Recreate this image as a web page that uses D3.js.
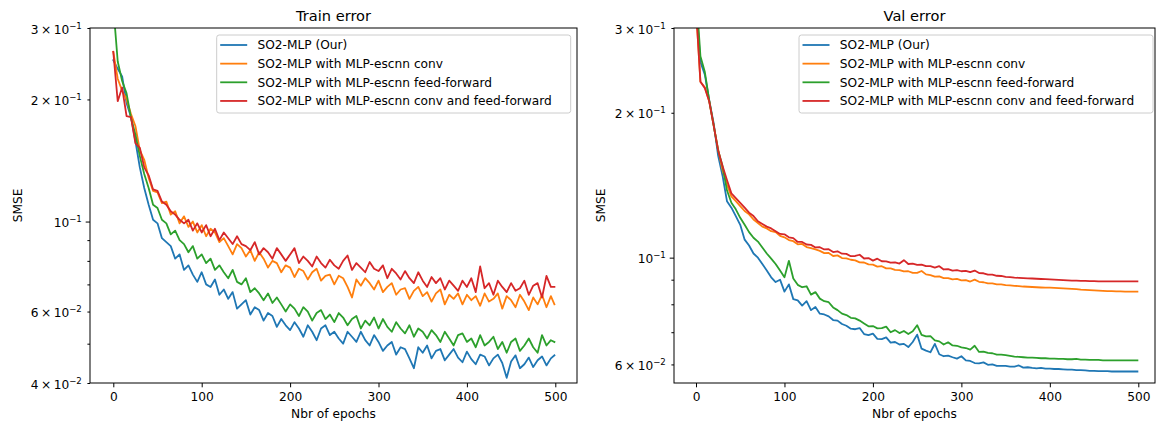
<!DOCTYPE html>
<html>
<head>
<meta charset="utf-8">
<script src="https://cdn.jsdelivr.net/npm/d3@7"></script>
<style>
  body { margin: 0; background: #fff; }
  text { font-family: "DejaVu Sans", sans-serif; fill: #000; }
</style>
</head>
<body>
<div id="vis"></div>
<script>
const svgWidth = 1156,
  svgHeight = 423,
  plotTop = 28,
  plotBottom = 383;

// epochs sampled every 5 (plus the last one)
const epochs = d3.range(0, 500, 5).concat([499]);
const xTicks = [0, 100, 200, 300, 400, 500];

const seriesNames = [
  "SO2-MLP (Our)",
  "SO2-MLP with MLP-escnn conv",
  "SO2-MLP with MLP-escnn feed-forward",
  "SO2-MLP with MLP-escnn conv and feed-forward",
];
const colors = ["#1f77b4", "#ff7f0e", "#2ca02c", "#d62728"];

// train error
const trainOur = [
  0.250, 0.238, 0.228, 0.196, 0.181, 0.158, 0.136, 0.121, 0.110, 0.101,
  0.099, 0.091, 0.089, 0.087, 0.081, 0.083, 0.076, 0.078, 0.074, 0.071,
  0.075, 0.070, 0.069, 0.072, 0.066, 0.068, 0.0645, 0.067, 0.061, 0.0625,
  0.064, 0.059, 0.0615, 0.0605, 0.057, 0.0595, 0.0585, 0.055, 0.0575, 0.0555,
  0.054, 0.0565, 0.0545, 0.052, 0.0555, 0.0535, 0.051, 0.0545, 0.0555, 0.0525,
  0.0535, 0.0515, 0.050, 0.0535, 0.052, 0.0505, 0.0535, 0.051, 0.0495, 0.0525,
  0.0505, 0.048, 0.0495, 0.0505, 0.047, 0.049, 0.0485, 0.046, 0.0435, 0.049,
  0.0475, 0.0495, 0.046, 0.048, 0.0485, 0.0455, 0.047, 0.0485, 0.0462, 0.045,
  0.0478, 0.0458, 0.0445, 0.047, 0.0465, 0.0442, 0.046, 0.047, 0.0448, 0.0412,
  0.0452, 0.0468, 0.0435, 0.0445, 0.0462, 0.0438, 0.0455, 0.0465, 0.0442, 0.046,
  0.0468,
];
const trainConv = [
  0.262, 0.225, 0.210, 0.200, 0.184, 0.172, 0.150, 0.142, 0.128, 0.119,
  0.118, 0.111, 0.112, 0.104, 0.106, 0.099, 0.103, 0.097, 0.100, 0.094,
  0.098, 0.092, 0.096, 0.094, 0.089, 0.091, 0.087, 0.083, 0.088, 0.086,
  0.082, 0.085, 0.080, 0.084, 0.081, 0.077, 0.080, 0.079, 0.075, 0.078,
  0.077, 0.073, 0.0765, 0.0755, 0.072, 0.075, 0.0765, 0.0715, 0.0735, 0.074,
  0.070, 0.0735, 0.0725, 0.069, 0.065, 0.072, 0.0695, 0.0725, 0.0705, 0.068,
  0.0715, 0.067, 0.069, 0.0705, 0.066, 0.068, 0.0685, 0.0645, 0.0675, 0.069,
  0.0655, 0.067, 0.0635, 0.0665, 0.068, 0.0625, 0.066, 0.0645, 0.0665, 0.0625,
  0.066, 0.064, 0.0655, 0.062, 0.0665, 0.0635, 0.0645, 0.0665, 0.061, 0.0655,
  0.064, 0.0615, 0.066, 0.0635, 0.0605, 0.065, 0.0625, 0.066, 0.0615, 0.0655,
  0.0625,
];
const trainFF = [
  0.340, 0.248, 0.222, 0.207, 0.180, 0.164, 0.145, 0.131, 0.121, 0.110,
  0.108, 0.101, 0.099, 0.093, 0.095, 0.090, 0.088, 0.084, 0.087, 0.081,
  0.083, 0.079, 0.081, 0.076, 0.078, 0.075, 0.0725, 0.076, 0.071, 0.070,
  0.0725, 0.067, 0.0685, 0.0665, 0.064, 0.0665, 0.063, 0.065, 0.0625, 0.060,
  0.0625, 0.061, 0.0585, 0.0615, 0.060, 0.057, 0.0595, 0.0605, 0.0575, 0.059,
  0.0565, 0.0595, 0.058, 0.0555, 0.0575, 0.0585, 0.0545, 0.057, 0.0555, 0.058,
  0.0545, 0.0575, 0.055, 0.0535, 0.0565, 0.0545, 0.053, 0.0555, 0.052, 0.0545,
  0.0535, 0.0515, 0.054, 0.0525, 0.0505, 0.0535, 0.0515, 0.0495, 0.0525, 0.053,
  0.0505, 0.0515, 0.049, 0.0525, 0.0495, 0.0505, 0.052, 0.0485, 0.0505, 0.0475,
  0.0505, 0.0515, 0.048, 0.0495, 0.0515, 0.049, 0.0475, 0.0525, 0.0495, 0.051,
  0.0505,
];
const trainConvFF = [
  0.262, 0.198, 0.214, 0.182, 0.181, 0.156, 0.152, 0.136, 0.130, 0.120,
  0.119, 0.112, 0.110, 0.106, 0.104, 0.101, 0.099, 0.101, 0.095, 0.099,
  0.094, 0.098, 0.092, 0.096, 0.090, 0.094, 0.091, 0.088, 0.092, 0.088,
  0.087, 0.085, 0.089, 0.083, 0.086, 0.084, 0.081, 0.086, 0.083, 0.080,
  0.083, 0.086, 0.079, 0.082, 0.080, 0.0775, 0.082, 0.079, 0.077, 0.0805,
  0.078, 0.0765, 0.080, 0.0825, 0.076, 0.079, 0.077, 0.075, 0.0795, 0.0765,
  0.0755, 0.078, 0.0725, 0.0765, 0.0745, 0.072, 0.0755, 0.0725, 0.0705, 0.075,
  0.0715, 0.069, 0.073, 0.0705, 0.0725, 0.068, 0.0715, 0.0695, 0.0675, 0.0715,
  0.069, 0.0725, 0.067, 0.0775, 0.0685, 0.0705, 0.066, 0.0715, 0.069, 0.067,
  0.0705, 0.0675, 0.0685, 0.0715, 0.066, 0.0695, 0.0705, 0.065, 0.0735, 0.069,
  0.069,
];

// validation error
const valOur = [
  0.340, 0.255, 0.240, 0.212, 0.190, 0.163, 0.148, 0.131, 0.127, 0.122,
  0.117, 0.109, 0.106, 0.102, 0.100, 0.097, 0.094, 0.091, 0.089, 0.090,
  0.085, 0.088, 0.082, 0.0815, 0.0795, 0.0812, 0.0778, 0.0790, 0.0765, 0.0762,
  0.0755, 0.0742, 0.0740, 0.0728, 0.0722, 0.0712, 0.0710, 0.0714, 0.0694, 0.0690,
  0.0695, 0.0678, 0.0677, 0.0683, 0.0666, 0.0668, 0.0660, 0.0662, 0.0652, 0.0668,
  0.0692, 0.0647, 0.0641, 0.0636, 0.0662, 0.0630, 0.0624, 0.0626, 0.0621, 0.0617,
  0.0624, 0.0612, 0.0610, 0.0604, 0.0603, 0.0606, 0.0599, 0.0600, 0.0596, 0.0596,
  0.0596, 0.0594, 0.0594, 0.0597, 0.0591, 0.0592, 0.0590, 0.0589, 0.0590, 0.0588,
  0.0588, 0.0587, 0.0587, 0.0586, 0.0585, 0.0585, 0.0584, 0.0584, 0.0583, 0.0582,
  0.0582, 0.0581, 0.0581, 0.0581, 0.0580, 0.0580, 0.0580, 0.0580, 0.0580, 0.0580,
  0.0580,
];
const valConv = [
  0.330, 0.232, 0.226, 0.211, 0.188, 0.168, 0.152, 0.142, 0.134, 0.131,
  0.128, 0.125, 0.123, 0.120, 0.118, 0.116, 0.115, 0.1135, 0.113, 0.111,
  0.1102, 0.1088, 0.1082, 0.1066, 0.1068, 0.1052, 0.1047, 0.1040, 0.1033, 0.1022,
  0.1023, 0.1008, 0.1011, 0.0998, 0.0997, 0.0990, 0.0987, 0.0978, 0.0977, 0.0968,
  0.0967, 0.0958, 0.0960, 0.0950, 0.0950, 0.0943, 0.0942, 0.0936, 0.0937, 0.0930,
  0.0930, 0.0938, 0.0923, 0.0920, 0.0913, 0.0914, 0.0907, 0.0907, 0.0901, 0.0903,
  0.0897, 0.0898, 0.0892, 0.0900, 0.0891, 0.0889, 0.0884, 0.0884, 0.0880, 0.0880,
  0.0877, 0.0876, 0.0874, 0.0873, 0.0871, 0.0870, 0.0869, 0.0868, 0.0867, 0.0866,
  0.0866, 0.0865, 0.0864, 0.0863, 0.0862, 0.0861, 0.0860, 0.0858, 0.0857, 0.0856,
  0.0855, 0.0854, 0.0853, 0.0852, 0.0852, 0.0851, 0.0851, 0.0850, 0.0850, 0.0850,
  0.0850,
];
const valFF = [
  0.360, 0.262, 0.243, 0.212, 0.188, 0.167, 0.155, 0.138, 0.130, 0.126,
  0.121, 0.117, 0.113, 0.110, 0.108, 0.105, 0.102, 0.0995, 0.097, 0.094,
  0.091, 0.0985, 0.0905, 0.0878, 0.0868, 0.0872, 0.0838, 0.0848, 0.0822, 0.0812,
  0.0808, 0.0788, 0.0778, 0.0765, 0.0760, 0.0750, 0.0748, 0.0740, 0.0730, 0.0720,
  0.0721, 0.0713, 0.0714, 0.0719, 0.0700, 0.0707, 0.0697, 0.0704, 0.0694, 0.0703,
  0.0724, 0.0691, 0.0686, 0.0687, 0.0673, 0.0670, 0.0660, 0.0667, 0.0657, 0.0656,
  0.0651, 0.0649, 0.0644, 0.0656, 0.0637, 0.0638, 0.0634, 0.0633, 0.0629, 0.0629,
  0.0627, 0.0625, 0.0623, 0.0622, 0.0621, 0.062, 0.062, 0.0619, 0.0618, 0.0618,
  0.0617, 0.0617, 0.0616, 0.0616, 0.0615, 0.0615, 0.0616, 0.0614, 0.0614, 0.0613,
  0.0613, 0.0613, 0.0612, 0.0612, 0.0612, 0.0612, 0.0612, 0.0612, 0.0612, 0.0612,
  0.0612,
];
const valConvFF = [
  0.330, 0.232, 0.225, 0.211, 0.188, 0.167, 0.155, 0.145, 0.136, 0.133,
  0.130, 0.127, 0.124, 0.122, 0.119, 0.1175, 0.116, 0.115, 0.1135, 0.112,
  0.1118, 0.1102, 0.1098, 0.1078, 0.1078, 0.1065, 0.1063, 0.1050, 0.1051, 0.1040,
  0.1041, 0.1027, 0.1031, 0.1019, 0.1018, 0.1007, 0.1008, 0.1014, 0.0996, 0.0998,
  0.0986, 0.0995, 0.0983, 0.0982, 0.0976, 0.0978, 0.0972, 0.0988, 0.0970, 0.0972,
  0.0966, 0.0967, 0.0960, 0.0960, 0.0953, 0.0960, 0.0945, 0.0947, 0.0940, 0.0942,
  0.0937, 0.0939, 0.0933, 0.0940, 0.0929, 0.0928, 0.0922, 0.0922, 0.0917, 0.0916,
  0.0912, 0.0911, 0.0909, 0.0908, 0.0907, 0.0906, 0.0905, 0.0904, 0.0903, 0.0902,
  0.0901, 0.0900, 0.0899, 0.0898, 0.0897, 0.0896, 0.0896, 0.0895, 0.0895, 0.0894,
  0.0894, 0.0893, 0.0893, 0.0893, 0.0893, 0.0893, 0.0893, 0.0893, 0.0893, 0.0893,
  0.0893,
];

const trainYTicks = [0.04, 0.06, 0.1, 0.2, 0.3];
const trainYMinor = [0.05, 0.07, 0.08, 0.09];
const valYTicks = [0.06, 0.1, 0.2, 0.3];
const valYMinor = [0.07, 0.08, 0.09];

const panels = [
  {
    title: "Train error",
    series: [trainOur, trainConv, trainFF, trainConvFF],
    yDomain: [0.04, 0.3],
    yTicks: trainYTicks,
    yMinor: trainYMinor,
    left: 90, right: 577, x0: 113.3, x500: 555.3,
    labelX: 22, legendX: 216.7,
  },
  {
    title: "Val error",
    series: [valOur, valConv, valFF, valConvFF],
    yDomain: [0.0549, 0.3],
    yTicks: valYTicks,
    yMinor: valYMinor,
    left: 674, right: 1155, x0: 696, x500: 1138.3,
    labelX: 605, legendX: 799,
  },
];

const svg = d3
  .select("#vis")
  .append("svg")
  .attr("width", svgWidth)
  .attr("height", svgHeight)
  .attr("viewBox", `0 0 ${svgWidth} ${svgHeight}`);

function sci(v) {
  const e = Math.floor(Math.log10(v) + 1e-9);
  const m = Math.round(v / Math.pow(10, e));
  return { m, e };
}

panels.forEach((p, i) => {
  const x = d3.scaleLinear().domain([0, 500]).range([p.x0, p.x500]);
  const y = d3.scaleLog().domain(p.yDomain).range([plotBottom, plotTop]);
  const g = svg.append("g");

  const clipId = "clip" + i;
  svg.append("clipPath").attr("id", clipId)
    .append("rect")
    .attr("x", p.left).attr("y", plotTop)
    .attr("width", p.right - p.left).attr("height", plotBottom - plotTop);

  // curves
  const line = d3.line().x((d) => x(d[0])).y((d) => y(d[1]));
  g.append("g").attr("clip-path", `url(#${clipId})`)
    .selectAll("path")
    .data(p.series)
    .join("path")
    .attr("fill", "none")
    .attr("stroke", (d, k) => colors[k])
    .attr("stroke-width", 1.8)
    .attr("stroke-linejoin", "round")
    .attr("stroke-linecap", "square")
    .attr("d", (d) => line(epochs.map((e, k) => [e, d[k]])));

  // x axis
  const xAxis = g.append("g")
    .attr("transform", `translate(0,${plotBottom})`)
    .call(d3.axisBottom(x).tickValues(xTicks).tickSize(4.3).tickPadding(5.5).tickSizeOuter(0));
  xAxis.select(".domain").remove();
  xAxis.selectAll("text").attr("font-size", 12.2).attr("font-family", "DejaVu Sans");

  // y axis, labelled ticks
  const yAxis = g.append("g")
    .attr("transform", `translate(${p.left},0)`)
    .call(d3.axisLeft(y).tickValues(p.yTicks).tickFormat(() => "").tickPadding(4).tickSizeOuter(0));
  yAxis.select(".domain").remove();
  yAxis.selectAll("line").attr("x2", (d) => (sci(d).m === 1 ? -4.3 : -2.6));
  yAxis.selectAll("text")
    .attr("font-size", 12.2)
    .attr("font-family", "DejaVu Sans")
    .attr("x", -8.2)
    .attr("dy", 5.2)
    .each(function (d) {
      const s = sci(d);
      const t = d3.select(this);
      t.append("tspan").text(s.m === 1 ? "10" : s.m + "\u2009\u00d7\u200910");
      t.append("tspan").attr("dy", -5.2).attr("font-size", 8.6).text("\u2212" + -s.e);
    });

  // y axis, minor ticks
  const yMinor = g.append("g")
    .attr("transform", `translate(${p.left},0)`)
    .call(d3.axisLeft(y).tickValues(p.yMinor).tickFormat(() => "").tickSize(2.6).tickSizeOuter(0));
  yMinor.select(".domain").remove();

  // frame
  g.append("rect")
    .attr("x", p.left).attr("y", plotTop)
    .attr("width", p.right - p.left).attr("height", plotBottom - plotTop)
    .attr("fill", "none").attr("stroke", "#000").attr("stroke-width", 1);

  // titles
  const cx = (p.left + p.right) / 2;
  g.append("text").attr("x", cx).attr("y", 21).attr("text-anchor", "middle")
    .attr("font-size", 14.6).text(p.title);
  g.append("text").attr("x", cx).attr("y", 417.5).attr("text-anchor", "middle")
    .attr("font-size", 12.2).text("Nbr of epochs");
  g.append("text")
    .attr("transform", `translate(${p.labelX},${(plotTop + plotBottom) / 2}) rotate(-90)`)
    .attr("text-anchor", "middle").attr("font-size", 12.2).text("SMSE");

  // legend
  const lg = g.append("g").attr("transform", `translate(${p.legendX},35)`);
  lg.append("rect")
    .attr("width", 354).attr("height", 78).attr("rx", 2.5)
    .attr("fill", "#fff").attr("fill-opacity", 0.8)
    .attr("stroke", "#cccccc").attr("stroke-width", 1);
  const items = lg.selectAll("g.item").data(seriesNames).join("g")
    .attr("transform", (d, k) => `translate(0,${10 + k * 18.65})`);
  items.append("line")
    .attr("x1", 3.5).attr("x2", 30.5)
    .attr("stroke", (d, k) => colors[k]).attr("stroke-width", 1.8);
  items.append("text")
    .attr("x", 40.8).attr("dy", 4.4).attr("font-size", 12.2).text((d) => d);
});
</script>
</body>
</html>
